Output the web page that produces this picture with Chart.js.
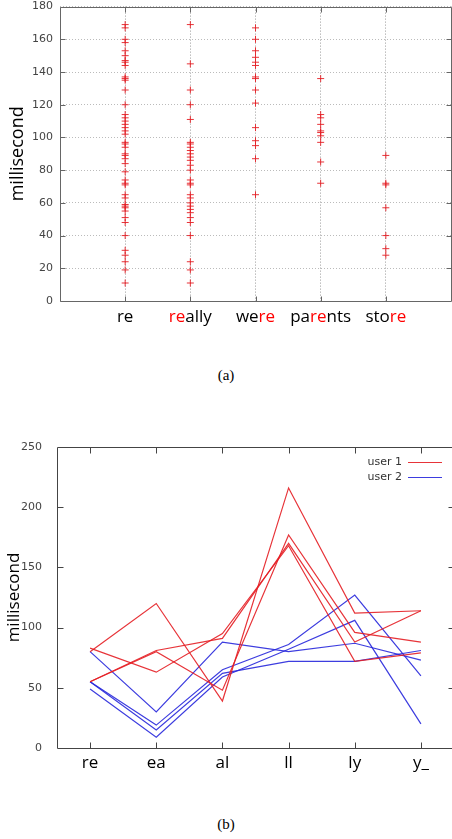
<!DOCTYPE html>
<html>
<head>
<meta charset="utf-8">
<script src="https://cdn.jsdelivr.net/npm/chart.js@4.4.1/dist/chart.umd.min.js"></script>
<style>
  html, body { margin: 0; padding: 0; background: #fff; }
  body { width: 452px; height: 839px; overflow: hidden; position: relative; }
  .panel { position: absolute; left: 0; }
  .caption { position: absolute; left: 0; width: 452px; text-align: center;
             font: 15px "Liberation Serif", serif; color: #000; }
</style>
</head>
<body>
<div class="panel" style="top:0"><canvas id="words" width="456" height="340"></canvas></div>
<div class="caption" style="top:367px">(a)</div>
<div class="panel" style="top:425px"><canvas id="bigrams" width="456" height="365"></canvas></div>
<div class="caption" style="top:816px">(b)</div>
<script>
// (a) time for the "re" key pair inside different words
const words = ['re', 'really', 'were', 'parents', 'store'];
const markFrom = [0, 0, 2, 2, 3];
const markTo = [0, 2, 4, 4, 5];

const reTimes = [169, 167, 160, 158, 153, 150, 147, 146, 144, 137, 136, 135, 129, 120,
  114, 112, 110, 108, 106, 104, 102, 97, 96, 94, 90, 89, 87, 84, 79, 74, 72, 71,
  65, 63, 59, 58, 57, 55, 51, 48, 40, 31, 28, 24, 19, 11];
const reallyTimes = [169, 145, 129, 120, 111, 97, 96, 94, 92, 90, 88, 86, 83, 80,
  74, 72, 71, 65, 63, 60, 58, 56, 54, 51, 48, 40, 24, 19, 11];
const wereTimes = [167, 160, 153, 149, 146, 144, 137, 136, 129, 121, 106, 98, 95, 87, 65];
const parentsTimes = [136, 114, 112, 108, 104, 103, 101, 97, 85, 72];
const storeTimes = [89, 72, 71, 57, 40, 32, 28];
const wordTimes = [reTimes, reallyTimes, wereTimes, parentsTimes, storeTimes];

// (b) key pair timings of "really", two users
const bigrams = ['re', 'ea', 'al', 'll', 'ly', 'y_'];
const user1Run1 = [80, 120, 39, 216, 112, 114];
const user1Run2 = [83, 63, 95, 168, 72, 79];
const user1Run3 = [55, 81, 91, 170, 88, 114];
const user1Run4 = [55, 80, 48, 177, 96, 88];
const user2Run1 = [80, 30, 88, 80, 87, 73];
const user2Run2 = [55, 19, 65, 86, 127, 60];
const user2Run3 = [55, 15, 62, 72, 72, 81];
const user2Run4 = [49, 9, 59, 82, 106, 20];
const userNames = ['user 1', 'user 2'];

const RED = 'rgba(228, 30, 36, 0.9)';
const BLUE = 'rgba(40, 40, 220, 0.9)';
const tickFont = { family: 'DejaVu Sans', size: 11 };
const NONE = 'rgba(0,0,0,0)';

// box around the plot with short inward ticks, gnuplot style
const frame = {
  id: 'frame',
  afterDatasetsDraw(chart, args, opts) {
    const { ctx, chartArea: a, scales: { x, y } } = chart;
    const L = Math.round(a.left) + 0.5, R = Math.round(a.right) + 0.5;
    const T = Math.round(a.top) + 0.5, B = Math.round(a.bottom) + 0.5;
    const t = opts.tick;
    ctx.save();
    ctx.strokeStyle = opts.color;
    ctx.lineWidth = 1;
    ctx.beginPath();
    ctx.rect(L, T, R - L, B - T);
    x.ticks.forEach((tk, i) => {
      const px = Math.round(x.getPixelForTick(i)) + 0.5;
      if (px <= L + 1 || px >= R - 1) return;
      ctx.moveTo(px, B); ctx.lineTo(px, B - t);
      ctx.moveTo(px, T); ctx.lineTo(px, T + t);
    });
    y.ticks.forEach((tk, i) => {
      const py = Math.round(y.getPixelForTick(i)) + 0.5;
      if (py <= T + 1 || py >= B - 1) return;
      ctx.moveTo(L, py); ctx.lineTo(L + t, py);
      ctx.moveTo(R, py); ctx.lineTo(R - t, py);
    });
    ctx.stroke();
    ctx.restore();
  }
};

// word labels under (a), the "re" part in red
const wordLabels = {
  id: 'wordLabels',
  afterDraw(chart) {
    const { ctx, scales: { x } } = chart;
    ctx.save();
    ctx.font = '17px "Open Sans"';
    ctx.textAlign = 'left';
    ctx.textBaseline = 'alphabetic';
    words.forEach((w, i) => {
      const parts = [w.slice(0, markFrom[i]), w.slice(markFrom[i], markTo[i]), w.slice(markTo[i])];
      let cx = x.getPixelForValue(i + 1) - ctx.measureText(w).width / 2;
      parts.forEach((p, k) => {
        ctx.fillStyle = k === 1 ? '#ff0000' : '#000';
        ctx.fillText(p, cx, 322);
        cx += ctx.measureText(p).width;
      });
    });
    ctx.restore();
  }
};

// small key in the top right corner of (b)
const userKey = {
  id: 'userKey',
  afterDraw(chart) {
    const { ctx, chartArea: a } = chart;
    ctx.save();
    ctx.font = '11px "DejaVu Sans"';
    ctx.textAlign = 'right';
    ctx.textBaseline = 'middle';
    ctx.lineWidth = 1;
    [RED, BLUE].forEach((col, i) => {
      const yy = Math.round(a.top) + 15 + i * 15;
      ctx.fillStyle = '#333';
      ctx.fillText(userNames[i], a.right - 52, yy);
      ctx.strokeStyle = col;
      ctx.beginPath();
      ctx.moveTo(a.right - 46, yy + 0.5);
      ctx.lineTo(a.right - 12, yy + 0.5);
      ctx.stroke();
    });
    ctx.restore();
  }
};

const points = [];
wordTimes.forEach((list, i) => list.forEach(v => points.push({ x: i + 1, y: v })));

new Chart(document.getElementById('words'), {
  type: 'scatter',
  data: {
    datasets: [{
      data: points,
      pointStyle: 'cross',
      pointRadius: 3.5,
      borderColor: RED,
      borderWidth: 1
    }]
  },
  options: {
    responsive: false,
    animation: false,
    events: [],
    layout: { padding: { top: 0, right: 3, left: 0, bottom: 0 } },
    plugins: { legend: { display: false }, tooltip: { enabled: false },
      frame: { color: '#666', tick: 5 } },
    scales: {
      x: {
        type: 'linear', min: 0, max: 6,
        ticks: { stepSize: 1, display: false },
        grid: { color: '#999', drawTicks: false },
        border: { display: false, dash: [1, 2] },
        afterFit: s => { s.height = 39; }
      },
      y: {
        min: 0, max: 180,
        // the gap to the axis comes from an invisible tick, so the top label adds little padding
        ticks: { stepSize: 20, padding: 0, color: '#444', font: tickFont },
        grid: { color: '#bbb', drawTicks: true, tickLength: 7, tickColor: NONE },
        border: { display: false, dash: [1, 2] },
        title: { display: true, text: 'millisecond', color: '#000',
          font: { family: 'Open Sans', size: 18 }, padding: { top: 7, bottom: 0 } },
        afterFit: s => { s.width = 60; }
      }
    }
  },
  plugins: [frame, wordLabels]
});

const run = (data, col) => ({
  data, borderColor: col, borderWidth: 1.2, pointRadius: 0, tension: 0, fill: false
});

new Chart(document.getElementById('bigrams'), {
  type: 'line',
  data: {
    labels: bigrams,
    datasets: [
      run(user1Run1, RED), run(user1Run2, RED), run(user1Run3, RED), run(user1Run4, RED),
      run(user2Run1, BLUE), run(user2Run2, BLUE), run(user2Run3, BLUE), run(user2Run4, BLUE)
    ]
  },
  options: {
    responsive: false,
    animation: false,
    events: [],
    layout: { padding: { top: 22, right: 2, left: 0, bottom: 0 } },
    plugins: { legend: { display: false }, tooltip: { enabled: false },
      frame: { color: '#444', tick: 6 } },
    scales: {
      x: {
        type: 'category', offset: true,
        ticks: { color: '#000', padding: -3, font: { family: 'Open Sans', size: 17 } },
        grid: { display: false },
        border: { display: false },
        afterFit: s => { s.height = 42; }
      },
      y: {
        min: 0, max: 250,
        ticks: { stepSize: 50, padding: 7, color: '#444', font: tickFont },
        grid: { display: false },
        border: { display: false },
        title: { display: true, text: 'millisecond', color: '#000',
          font: { family: 'Open Sans', size: 17 }, padding: { top: 4, bottom: 0 } },
        afterFit: s => { s.width = 57; }
      }
    }
  },
  plugins: [frame, userKey]
});
</script>
</body>
</html>
